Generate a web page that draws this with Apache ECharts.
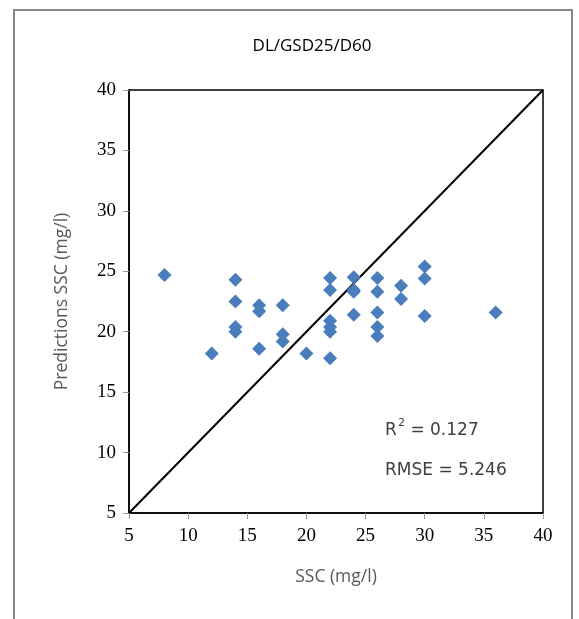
<!DOCTYPE html>
<html><head><meta charset="utf-8">
<script src="https://cdn.jsdelivr.net/npm/echarts@6/dist/echarts.min.js"></script>
<style>html,body{margin:0;padding:0;background:#fff}#c{width:579px;height:619px}</style>
</head><body><div id="c"></div>
<script>
const titleText = 'DL/GSD25/D60';
const xName = 'SSC (mg/l)';
const yName = 'Predictions SSC (mg/l)';
const observed = [8,12,14,14,14,14,16,16,16,18,18,18,20,22,22,22,22,22,22,24,24,24,24,26,26,26,26,26,28,28,30,30,30,36];
const predicted = [24.7,18.2,24.3,22.5,20.4,20.0,22.2,21.7,18.6,22.2,19.8,19.2,18.2,24.45,23.45,20.9,20.4,20.0,17.8,24.5,23.45,23.3,21.4,24.45,23.3,21.6,20.4,19.65,23.8,22.7,25.4,24.4,21.3,21.6];
const oneToOne = [[5,5],[40,40]];
const axisMin = 5, axisMax = 40, axisStep = 5;
const statsR2 = ['R', '2', ' = 0.127'];
const statsRmse = 'RMSE = 5.246';

const chart = echarts.init(document.getElementById('c'));
const serif = '"Liberation Serif", "DejaVu Serif", serif';
const sans = '"Open Sans", "Noto Sans", sans-serif';
const statFont = '17px "DejaVu Sans", sans-serif';
chart.setOption({
  animation: false,
  backgroundColor: '#fff',
  title: {text: titleText, left: 307, top: 33, textAlign: 'center',
    textStyle: {fontFamily: sans, fontSize: 17, fontWeight: 'normal', color: '#000'}},
  grid: {left: 129, top: 90, width: 414, height: 423, show: true, borderColor: '#000', borderWidth: 1.5, backgroundColor: 'transparent'},
  xAxis: {type: 'value', min: axisMin, max: axisMax, interval: axisStep,
    name: xName, nameLocation: 'middle', nameGap: 55,
    nameTextStyle: {fontFamily: sans, fontSize: 17.5, color: '#595959'},
    axisLine: {show: true, lineStyle: {color: '#000', width: 1.5}},
    axisTick: {show: true, length: 6, lineStyle: {color: '#999'}},
    axisLabel: {fontFamily: serif, fontSize: 19, color: '#000', margin: 14},
    splitLine: {show: false}},
  yAxis: {type: 'value', min: axisMin, max: axisMax, interval: axisStep,
    name: yName, nameLocation: 'middle', nameGap: 58,
    nameTextStyle: {fontFamily: sans, fontSize: 17.5, color: '#595959'},
    axisLine: {show: true, lineStyle: {color: '#000', width: 1.5}},
    axisTick: {show: true, length: 6, lineStyle: {color: '#999'}},
    axisLabel: {fontFamily: serif, fontSize: 19, color: '#000', margin: 13},
    splitLine: {show: false}},
  graphic: [
    {type: 'rect', shape: {x: 14, y: 10, width: 558, height: 640}, style: {fill: 'none', stroke: '#888', lineWidth: 2}, silent: true},
    {type: 'text', x: 385, y: 422, style: {text: statsR2[0], font: statFont, fill: '#404040'}},
    {type: 'text', x: 398, y: 418, style: {text: statsR2[1], font: '11px "DejaVu Sans", sans-serif', fill: '#404040'}},
    {type: 'text', x: 405, y: 422, style: {text: statsR2[2], font: statFont, fill: '#404040'}},
    {type: 'text', x: 385, y: 462, style: {text: statsRmse, font: statFont, fill: '#404040'}}
  ],
  series: [
    {type: 'line', data: oneToOne, symbol: 'none', lineStyle: {color: '#000', width: 2}, z: 1},
    {type: 'scatter', data: observed.map((x, i) => [x, predicted[i]]), symbol: 'diamond', symbolSize: 14,
      itemStyle: {color: '#4a7dbb', opacity: 1}, z: 2}
  ]
});
</script></body></html>
